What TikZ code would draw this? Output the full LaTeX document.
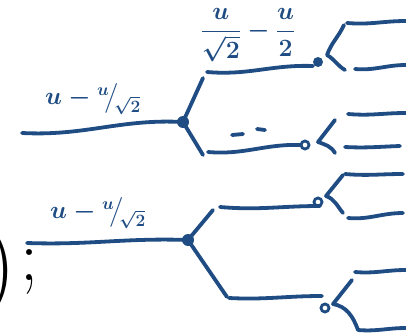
\documentclass[tikz,border=0pt]{standalone}
\usepackage{amsmath}
\begin{document}
\definecolor{ink}{RGB}{31,76,130}
\begin{tikzpicture}[x=1pt,y=-1pt,
  stroke/.style={draw=ink,line width=3.8pt,line cap=round,line join=round},
  hand/.style={text=ink,inner sep=0pt,font=\fontsize{25}{27}\selectfont\boldmath},
  junction/.style={circle,fill=ink,inner sep=0pt,minimum size=12pt},
  knot/.style={circle,draw=ink,line width=2.8pt,inner sep=0pt,minimum size=8pt}]
\useasboundingbox (0,0) rectangle (406,334);

% closing bracket and semicolon on the left
\node[inner sep=0pt,font=\fontsize{92}{92}\selectfont] (paren) at (0,272) {)};
\node[inner sep=0pt,font=\fontsize{72}{72}\selectfont] (semi) at (29,272) {;};

% ---------- upper tree ----------
\coordinate (a0) at (22,133);
\node[junction] (aJ) at (183,122) {};
\draw[stroke] (a0) to[out=-3,in=177] (aJ.center);
\node[hand] (aLab) at (93,99) {$u-{}^{u}\!\big/\!_{\sqrt{2}}$};

% upper arm
\coordinate (aUarm) at (203,78);
\coordinate (aUs) at (207,72);
\coordinate (aUe) at (313,66);
\node[junction,minimum size=10pt] (aUd) at (318,62) {};
\draw[stroke] (aJ.center) -- (aUarm);
\draw[stroke] (aUs) to[out=-5,in=178] (aUe);
\node[hand] (aUlab) at (248,35) {$\dfrac{u}{\sqrt{2}}-\dfrac{u}{2}$};

\coordinate (aUf) at (327,55);
\coordinate (aUfu) at (344,25);
\coordinate (aUfd) at (345,70);
\coordinate (aUl1s) at (347,23);
\coordinate (aUl1e) at (406,21);
\coordinate (aUl2s) at (355,69);
\coordinate (aUl2e) at (406,65);
\draw[stroke] (aUfu) to[out=-115,in=70] (aUf) to[out=-30,in=150] (aUfd);
\draw[stroke] (aUl1s) to[out=-5,in=180] (aUl1e);
\draw[stroke] (aUl2s) to[out=-5,in=180] (aUl2e);

% lower arm
\coordinate (aDarm) at (203,155);
\coordinate (aDs) at (208,152);
\coordinate (aDe) at (301,145);
\node[knot] (aDk) at (305,145) {};
\draw[stroke] (aJ.center) -- (aDarm);
\draw[stroke] (aDs) to[out=-5,in=178] (aDe);
\coordinate (dash1s) at (232,135);
\coordinate (dash1e) at (243,134);
\coordinate (dash2s) at (257,129);
\coordinate (dash2e) at (265,130);
\draw[stroke] (dash1s) -- (dash1e);
\draw[stroke] (dash2s) -- (dash2e);

\coordinate (aDf) at (318,142);
\coordinate (aDfu) at (335,120);
\coordinate (aDfd) at (335,153);
\coordinate (aDl1s) at (348,114);
\coordinate (aDl1e) at (406,113);
\coordinate (aDl2s) at (345,147);
\coordinate (aDl2e) at (400,146);
\draw[stroke] (aDfu) -- (aDf) to[out=-20,in=120] (aDfd);
\draw[stroke] (aDl1s) to[out=-5,in=180] (aDl1e);
\draw[stroke] (aDl2s) to[out=-3,in=182] (aDl2e);

% ---------- lower tree ----------
\coordinate (b0) at (27,243);
\node[junction] (bJ) at (188,240) {};
\draw[stroke] (b0) to[out=-2,in=178] (bJ.center);
\node[hand] (bLab) at (98,213) {$u-{}^{u}\!\big/\!_{\sqrt{2}}$};

% upper arm
\coordinate (bUarm) at (213,210);
\coordinate (bUs) at (220,207);
\coordinate (bUe) at (320,206);
\node[knot] (bUk) at (318,202) {};
\draw[stroke] (bJ.center) -- (bUarm);
\draw[stroke] (bUs) to[out=-5,in=180] (bUe);

\coordinate (bUf) at (326,196);
\coordinate (bUfu) at (343,175);
\coordinate (bUfd) at (343,213);
\coordinate (bUl1s) at (345,174);
\coordinate (bUl1e) at (403,174);
\coordinate (bUl2s) at (348,218);
\coordinate (bUl2e) at (403,213);
\draw[stroke] (bUfu) -- (bUf) to[out=-20,in=130] (bUfd);
\draw[stroke] (bUl1s) to[out=-5,in=180] (bUl1e);
\draw[stroke] (bUl2s) to[out=-5,in=180] (bUl2e);

% lower arm
\coordinate (bDarm) at (227,297);
\coordinate (bDs) at (229,298);
\coordinate (bDe) at (322,296);
\node[knot] (bDk) at (325,308) {};
\draw[stroke] (bJ.center) -- (bDarm);
\draw[stroke] (bDs) to[out=-3,in=180] (bDe);

\coordinate (bDf) at (333,304);
\coordinate (bDfu) at (352,280);
\coordinate (bDfd) at (358,330);
\coordinate (bDl1s) at (355,272);
\coordinate (bDl1e) at (406,270);
\coordinate (bDl2e) at (406,328);
\draw[stroke] (bDfu) -- (bDf) to[out=-10,in=110] (bDfd);
\draw[stroke] (bDl1s) to[out=-5,in=180] (bDl1e);
\draw[stroke] (bDfd) to[out=-5,in=180] (bDl2e);
\end{tikzpicture}
\end{document}
